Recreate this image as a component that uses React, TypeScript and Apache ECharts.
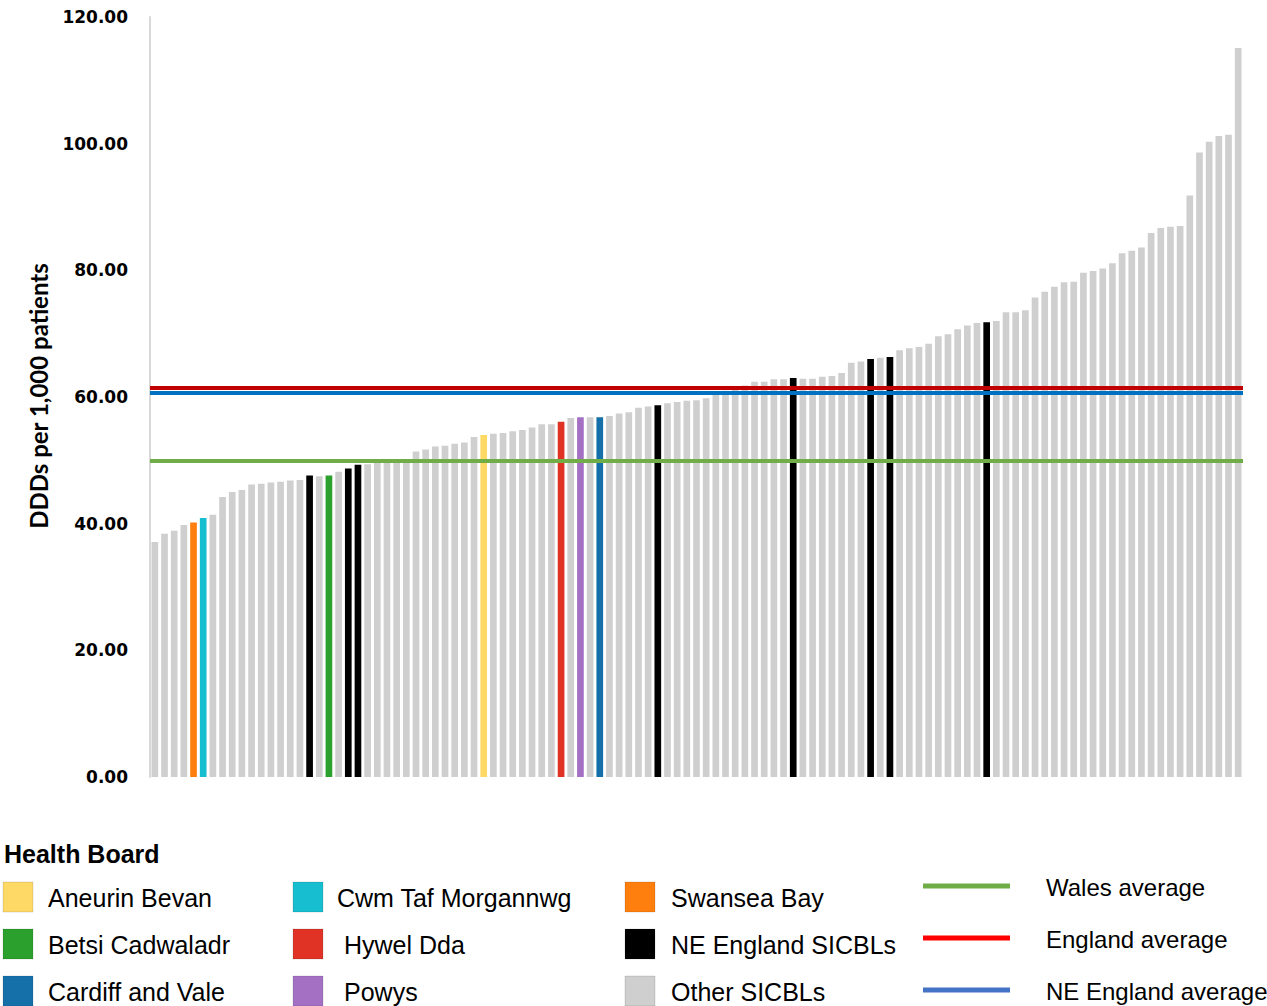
import React, { useEffect, useRef } from "react";
import * as echarts from "echarts";

// DDDs per 1,000 patients, sorted ascending (one value per SICBL / health board)
const values: number[] = [
  37.1, 38.4, 38.9, 39.8, 40.2, 40.9, 41.4, 44.2, 45.0, 45.3,
  46.2, 46.3, 46.5, 46.6, 46.8, 46.9, 47.6, 47.5, 47.6, 48.2,
  48.7, 49.3, 49.4, 49.8, 49.9, 50.0, 50.2, 51.4, 51.7, 52.2,
  52.3, 52.6, 52.8, 53.7, 54.0, 54.2, 54.3, 54.6, 54.8, 55.2,
  55.7, 55.7, 56.1, 56.7, 56.8, 56.8, 56.8, 57.0, 57.4, 57.6,
  58.3, 58.5, 58.7, 59.0, 59.2, 59.4, 59.5, 59.8, 60.5, 61.0,
  61.5, 61.8, 62.4, 62.4, 62.8, 62.8, 63.0, 62.9, 62.9, 63.2,
  63.3, 63.8, 65.4, 65.6, 66.0, 66.2, 66.3, 67.4, 67.7, 67.9,
  68.4, 69.6, 69.9, 70.7, 71.3, 71.7, 71.8, 72.0, 73.4, 73.4,
  73.7, 75.7, 76.6, 77.4, 78.1, 78.2, 79.6, 79.9, 80.3, 81.1,
  82.7, 83.1, 83.6, 85.9, 86.7, 86.9, 87.0, 91.8, 98.6, 100.3,
  101.2, 101.4, 115.1,
];

// 1-based positions of highlighted bars
const aneurinBevanIdx = [35];
const betsiCadwaladrIdx = [19];
const cardiffValeIdx = [47];
const cwmTafIdx = [6];
const hywelDdaIdx = [43];
const powysIdx = [45];
const swanseaBayIdx = [5];
const neEnglandIdx = [17, 21, 22, 53, 67, 75, 77, 87];

const walesAverage = 49.9;
const englandAverage = 61.4;
const neEnglandAverage = 60.6;

const yTicks = { min: 0, max: 120, interval: 20 };

const legendTitle = "Health Board";
const groupNames = [
  "Aneurin Bevan", "Betsi Cadwaladr", "Cardiff and Vale",
  "Cwm Taf Morgannwg", "Hywel Dda", "Powys",
  "Swansea Bay", "NE England SICBLs", "Other SICBLs",
];
const lineNames = ["Wales average", "England average", "NE England average"];

const COLORS: Record<string, string> = {
  "Aneurin Bevan": "#FFD966",
  "Betsi Cadwaladr": "#2CA02C",
  "Cardiff and Vale": "#1570AA",
  "Cwm Taf Morgannwg": "#17BECF",
  "Hywel Dda": "#E03326",
  "Powys": "#A470C4",
  "Swansea Bay": "#FF7F0E",
  "NE England SICBLs": "#000000",
  "Other SICBLs": "#D0CFCF",
};
const LINE_COLORS = { wales: "#70AD47", england: "#C00000", ne: "#0070C0" };
const LEGEND_LINE_COLORS = ["#70AD47", "#FF0000", "#4472C4"];

function groupOf(i1: number): string {
  if (aneurinBevanIdx.includes(i1)) return "Aneurin Bevan";
  if (betsiCadwaladrIdx.includes(i1)) return "Betsi Cadwaladr";
  if (cardiffValeIdx.includes(i1)) return "Cardiff and Vale";
  if (cwmTafIdx.includes(i1)) return "Cwm Taf Morgannwg";
  if (hywelDdaIdx.includes(i1)) return "Hywel Dda";
  if (powysIdx.includes(i1)) return "Powys";
  if (swanseaBayIdx.includes(i1)) return "Swansea Bay";
  if (neEnglandIdx.includes(i1)) return "NE England SICBLs";
  return "Other SICBLs";
}

export default function App() {
  const ref = useRef<HTMLDivElement>(null);

  useEffect(() => {
    document.body.style.margin = "0";
    if (!ref.current) return;
    const chart = echarts.init(ref.current, undefined, { renderer: "svg" });

    const categories = values.map((_, i) => `SICBL ${i + 1}`);
    const data = values.map((v, i) => ({
      value: v,
      itemStyle: { color: COLORS[groupOf(i + 1)] },
    }));

    const FONT = "'Liberation Sans', Arial, sans-serif";
    const graphics: any[] = [];
    graphics.push({
      type: "text", left: 4, top: 841,
      style: { text: legendTitle, font: `bold 25px ${FONT}`, fill: "#000" },
    });
    const squareCols = [
      { sx: 3, tx: [48, 48, 48] },
      { sx: 293, tx: [337, 344, 344] },
      { sx: 625, tx: [671, 671, 671] },
    ];
    const rowTops = [882, 929, 976];
    groupNames.forEach((name, k) => {
      const col = Math.floor(k / 3);
      const row = k % 3;
      graphics.push({
        type: "rect",
        shape: { x: squareCols[col].sx, y: rowTops[row], width: 30, height: 30 },
        style: { fill: COLORS[name], stroke: "rgba(0,0,0,0.12)", lineWidth: 1 },
      });
      graphics.push({
        type: "text",
        x: squareCols[col].tx[row], y: rowTops[row] + 16,
        style: {
          text: name, font: `25px ${FONT}`, fill: "#000",
          textVerticalAlign: "middle", verticalAlign: "middle",
        },
      });
    });
    const lineYs = [886, 938, 990];
    lineNames.forEach((name, k) => {
      graphics.push({
        type: "line",
        shape: { x1: 923, y1: lineYs[k], x2: 1010, y2: lineYs[k] },
        style: { stroke: LEGEND_LINE_COLORS[k], lineWidth: 5 },
      });
      graphics.push({
        type: "text",
        x: 1046, y: lineYs[k] + 1,
        style: {
          text: name, font: `24px ${FONT}`, fill: "#000",
          textVerticalAlign: "middle", verticalAlign: "middle",
        },
      });
    });
    graphics.push({
      type: "text",
      x: 38, y: 396, rotation: Math.PI / 2,
      style: {
        text: "DDDs per 1,000 patients",
        font: `bold 24px Lato, 'Open Sans', sans-serif`,
        fill: "#000",
        textAlign: "center", align: "center",
        textVerticalAlign: "middle", verticalAlign: "middle",
      },
    });

    chart.setOption({
      animation: false,
      grid: { left: 150, right: 24, top: 17, bottom: 229, containLabel: false },
      xAxis: {
        type: "category",
        data: categories,
        axisLine: { show: false },
        axisTick: { show: false },
        axisLabel: { show: false },
        splitLine: { show: false },
      },
      yAxis: {
        type: "value",
        min: yTicks.min,
        max: yTicks.max,
        interval: yTicks.interval,
        axisLine: { show: true, lineStyle: { color: "#D9D9D9", width: 2 } },
        axisTick: { show: false },
        splitLine: { show: false },
        axisLabel: {
          formatter: (v: number) => v.toFixed(2),
          fontFamily: "'DejaVu Sans', Verdana, sans-serif",
          fontWeight: "bold",
          fontSize: 17,
          color: "#000",
          margin: 22,
        },
      },
      series: [
        {
          type: "bar",
          data,
          barCategoryGap: "31%",
          markLine: {
            silent: true,
            symbol: "none",
            label: { show: false },
            data: [
              { yAxis: walesAverage, lineStyle: { color: LINE_COLORS.wales, width: 4, type: "solid" } },
              { yAxis: neEnglandAverage, lineStyle: { color: LINE_COLORS.ne, width: 4, type: "solid" } },
              { yAxis: englandAverage, lineStyle: { color: LINE_COLORS.england, width: 4, type: "solid" } },
            ],
          },
        },
      ],
      graphic: graphics,
    });

    return () => chart.dispose();
  }, []);

  return <div ref={ref} style={{ width: 1267, height: 1006 }} />;
}
